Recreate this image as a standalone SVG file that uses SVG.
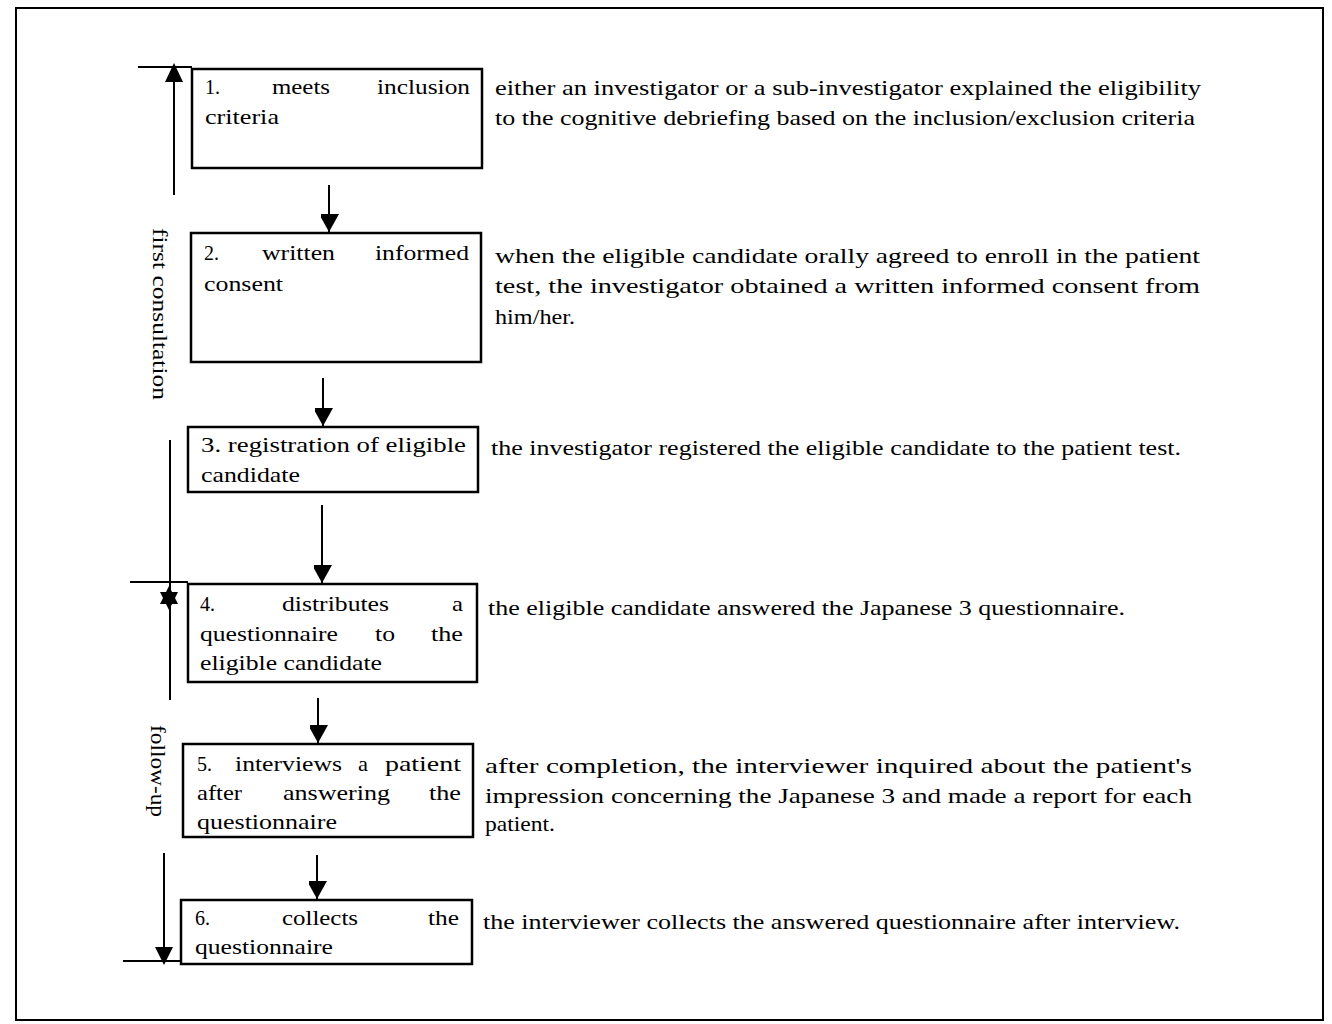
<svg xmlns="http://www.w3.org/2000/svg" width="1332" height="1024" viewBox="0 0 1332 1024">
<style>
  .box { fill: #fff; stroke: #000; stroke-width: 2.5; }
  .ln { stroke: #000; stroke-width: 2; fill: none; }
  .t { font-family: "Liberation Serif", "Times New Roman", serif; font-size: 22px; fill: #000; }
</style>
<defs>
  <marker id="ah" markerUnits="userSpaceOnUse" markerWidth="20" markerHeight="18" refX="18" refY="10" orient="auto">
    <path d="M0,0 L18,10 L0,20 Z" fill="#000"/>
  </marker>
</defs>
<rect x="0" y="0" width="1332" height="1024" fill="#fff"/>
<rect x="16" y="8" width="1307" height="1012" fill="none" stroke="#000" stroke-width="2"/>

<g id="connectors">
  <line class="ln" x1="329" y1="185" x2="329" y2="232" marker-end="url(#ah)"/>
  <line class="ln" x1="323" y1="378" x2="323" y2="426" marker-end="url(#ah)"/>
  <line class="ln" x1="322" y1="505" x2="322" y2="583" marker-end="url(#ah)"/>
  <line class="ln" x1="318" y1="698" x2="318" y2="743" marker-end="url(#ah)"/>
  <line class="ln" x1="317" y1="855" x2="317" y2="899" marker-end="url(#ah)"/>
</g>

<g id="phase-brackets">
  <line class="ln" x1="138" y1="67" x2="192" y2="67"/>
  <line class="ln" x1="174" y1="195" x2="174" y2="80"/>
  <polygon points="174,63 165,82 183,82" fill="#000"/>
  <text class="t" transform="translate(153,228) rotate(90)" textLength="172" lengthAdjust="spacingAndGlyphs">first consultation</text>
  <line class="ln" x1="170" y1="440" x2="170" y2="700"/>
  <line class="ln" x1="130" y1="582" x2="188" y2="582"/>
  <polygon points="169,586 160,604 178,604" fill="#000"/>
  <polygon points="169,610 160,592 178,592" fill="#000"/>
  <text class="t" transform="translate(151,725) rotate(90)" textLength="92" lengthAdjust="spacingAndGlyphs">follow-up</text>
  <line class="ln" x1="164" y1="853" x2="164" y2="950"/>
  <polygon points="164,965 155,947 173,947" fill="#000"/>
  <line class="ln" x1="123" y1="961" x2="181" y2="961"/>
</g>

<g id="node1">
  <rect class="box" x="192" y="69" width="290" height="99"/>
  <text class="t" x="205" y="94" textLength="15" lengthAdjust="spacingAndGlyphs">1.</text>
  <text class="t" x="272" y="94" textLength="58" lengthAdjust="spacingAndGlyphs">meets</text>
  <text class="t" x="377" y="94" textLength="93" lengthAdjust="spacingAndGlyphs">inclusion</text>
  <text class="t" x="205" y="124" textLength="74" lengthAdjust="spacingAndGlyphs">criteria</text>
</g>
<g id="node2">
  <rect class="box" x="191" y="233" width="290" height="129"/>
  <text class="t" x="204" y="260" textLength="15" lengthAdjust="spacingAndGlyphs">2.</text>
  <text class="t" x="262" y="260" textLength="73" lengthAdjust="spacingAndGlyphs">written</text>
  <text class="t" x="375" y="260" textLength="94" lengthAdjust="spacingAndGlyphs">informed</text>
  <text class="t" x="204" y="291" textLength="79" lengthAdjust="spacingAndGlyphs">consent</text>
</g>
<g id="node3">
  <rect class="box" x="188" y="427" width="290" height="65"/>
  <text class="t" x="201" y="452" textLength="265" lengthAdjust="spacingAndGlyphs">3. registration of eligible</text>
  <text class="t" x="201" y="482" textLength="99" lengthAdjust="spacingAndGlyphs">candidate</text>
</g>
<g id="node4">
  <rect class="box" x="188" y="584" width="289" height="98"/>
  <text class="t" x="200" y="611" textLength="15" lengthAdjust="spacingAndGlyphs">4.</text>
  <text class="t" x="282" y="611" textLength="107" lengthAdjust="spacingAndGlyphs">distributes</text>
  <text class="t" x="452" y="611" textLength="11" lengthAdjust="spacingAndGlyphs">a</text>
  <text class="t" x="200" y="641" textLength="138" lengthAdjust="spacingAndGlyphs">questionnaire</text>
  <text class="t" x="375" y="641" textLength="20" lengthAdjust="spacingAndGlyphs">to</text>
  <text class="t" x="431" y="641" textLength="32" lengthAdjust="spacingAndGlyphs">the</text>
  <text class="t" x="200" y="670" textLength="182" lengthAdjust="spacingAndGlyphs">eligible candidate</text>
</g>
<g id="node5">
  <rect class="box" x="183" y="744" width="290" height="93"/>
  <text class="t" x="197" y="771" textLength="15" lengthAdjust="spacingAndGlyphs">5.</text>
  <text class="t" x="235" y="771" textLength="107" lengthAdjust="spacingAndGlyphs">interviews</text>
  <text class="t" x="358" y="771" textLength="10" lengthAdjust="spacingAndGlyphs">a</text>
  <text class="t" x="385" y="771" textLength="76" lengthAdjust="spacingAndGlyphs">patient</text>
  <text class="t" x="197" y="800" textLength="45" lengthAdjust="spacingAndGlyphs">after</text>
  <text class="t" x="283" y="800" textLength="107" lengthAdjust="spacingAndGlyphs">answering</text>
  <text class="t" x="429" y="800" textLength="32" lengthAdjust="spacingAndGlyphs">the</text>
  <text class="t" x="197" y="829" textLength="140" lengthAdjust="spacingAndGlyphs">questionnaire</text>
</g>
<g id="node6">
  <rect class="box" x="181" y="900" width="291" height="64"/>
  <text class="t" x="195" y="925" textLength="15" lengthAdjust="spacingAndGlyphs">6.</text>
  <text class="t" x="282" y="925" textLength="76" lengthAdjust="spacingAndGlyphs">collects</text>
  <text class="t" x="428" y="925" textLength="31" lengthAdjust="spacingAndGlyphs">the</text>
  <text class="t" x="195" y="954" textLength="138" lengthAdjust="spacingAndGlyphs">questionnaire</text>
</g>

<g id="descriptions">
  <text class="t" x="495" y="95" textLength="706" lengthAdjust="spacingAndGlyphs">either an investigator or a sub-investigator explained the eligibility</text>
  <text class="t" x="495" y="125" textLength="700" lengthAdjust="spacingAndGlyphs">to the cognitive debriefing based on the inclusion/exclusion criteria</text>
  <text class="t" x="495" y="263" textLength="705" lengthAdjust="spacingAndGlyphs">when the eligible candidate orally agreed to enroll in the patient</text>
  <text class="t" x="495" y="293" textLength="705" lengthAdjust="spacingAndGlyphs">test, the investigator obtained a written informed consent from</text>
  <text class="t" x="495" y="324" textLength="80" lengthAdjust="spacingAndGlyphs">him/her.</text>
  <text class="t" x="491" y="455" textLength="690" lengthAdjust="spacingAndGlyphs">the investigator registered the eligible candidate to the patient test.</text>
  <text class="t" x="488" y="615" textLength="637" lengthAdjust="spacingAndGlyphs">the eligible candidate answered the Japanese 3 questionnaire.</text>
  <text class="t" x="485" y="773" textLength="707" lengthAdjust="spacingAndGlyphs">after completion, the interviewer inquired about the patient's</text>
  <text class="t" x="485" y="803" textLength="707" lengthAdjust="spacingAndGlyphs">impression concerning the Japanese 3 and made a report for each</text>
  <text class="t" x="485" y="831" textLength="70" lengthAdjust="spacingAndGlyphs">patient.</text>
  <text class="t" x="483" y="929" textLength="697" lengthAdjust="spacingAndGlyphs">the interviewer collects the answered questionnaire after interview.</text>
</g>
</svg>
